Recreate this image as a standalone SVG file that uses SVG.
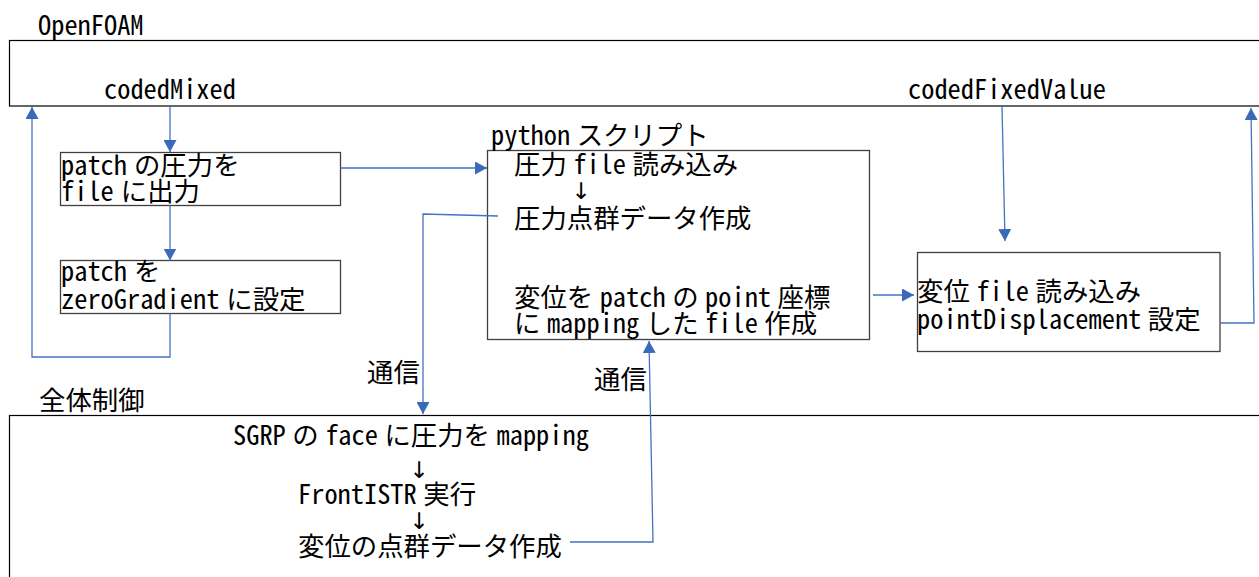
<svg xmlns="http://www.w3.org/2000/svg" width="1259" height="577" viewBox="0 0 1259 577">
<style>
.t{font-family:"Noto Sans Mono CJK JP","Noto Sans CJK JP",monospace;font-size:26.4px;fill:#000}
.ar{font-family:"DejaVu Sans","Liberation Sans",sans-serif;font-size:23px;fill:#000}
.frame{fill:none;stroke:#000;stroke-width:1.2}
.box{fill:#fff;stroke:#404040;stroke-width:1.3}
.c{fill:none;stroke:#4472c4;stroke-width:1.3}
</style>
<defs>
<marker id="ah" markerUnits="userSpaceOnUse" markerWidth="13" markerHeight="13" refX="12" refY="6.5" orient="auto">
<path d="M0,0 L12,6.5 L0,13 z" fill="#3a6bb8"/>
</marker>
</defs>
<rect width="1259" height="577" fill="#fff"/>

<g id="openfoam">
<rect class="frame" x="9.5" y="40.5" width="1252" height="65.5"/>
<text class="t" x="38" y="35">OpenFOAM</text>
<text class="t" x="104" y="99">codedMixed</text>
<text class="t" x="908" y="99">codedFixedValue</text>
</g>

<g id="control">
<rect class="frame" x="9.5" y="415.5" width="1252" height="200"/>
<text class="t" x="39" y="410">全体制御</text>
<text class="t" x="233" y="445"><tspan>SGRP</tspan><tspan dx="6.5">の</tspan><tspan dx="6.5">face</tspan><tspan dx="6.5">に圧力を</tspan><tspan dx="6.5">mapping</tspan></text>
<text class="ar" x="419" y="478" text-anchor="middle">↓</text>
<text class="t" x="298" y="504"><tspan>FrontISTR</tspan><tspan dx="6.5">実行</tspan></text>
<text class="ar" x="419" y="529" text-anchor="middle">↓</text>
<text class="t" x="298" y="556">変位の点群データ作成</text>
</g>

<g id="box1">
<rect class="box" x="60.5" y="152.5" width="280" height="53"/>
<text class="t" x="61" y="175"><tspan>patch</tspan><tspan dx="7">の圧力を</tspan></text>
<text class="t" x="61" y="201"><tspan>file</tspan><tspan dx="7">に出力</tspan></text>
</g>

<g id="box2">
<rect class="box" x="60.5" y="260.5" width="280" height="53"/>
<text class="t" x="61" y="281"><tspan>patch</tspan><tspan dx="7">を</tspan></text>
<text class="t" x="61" y="309"><tspan>zeroGradient</tspan><tspan dx="7">に設定</tspan></text>
</g>

<g id="python">
<rect class="box" x="487.5" y="150.5" width="382" height="189"/>
<text class="t" x="491" y="145"><tspan>python</tspan><tspan dx="6.5">スクリプト</tspan></text>
<text class="t" x="514" y="174"><tspan>圧力</tspan><tspan dx="6.5">file</tspan><tspan dx="6.5">読み込み</tspan></text>
<text class="ar" x="581" y="199" text-anchor="middle">↓</text>
<text class="t" x="514" y="228">圧力点群データ作成</text>
<text class="t" x="514" y="307"><tspan>変位を</tspan><tspan dx="6.5">patch</tspan><tspan dx="6.5">の</tspan><tspan dx="6.5">point</tspan><tspan dx="6.5">座標</tspan></text>
<text class="t" x="514" y="333"><tspan>に</tspan><tspan dx="6.5">mapping</tspan><tspan dx="6.5">した</tspan><tspan dx="6.5">file</tspan><tspan dx="6.5">作成</tspan></text>
</g>

<g id="box3">
<rect class="box" x="917.5" y="252.5" width="302.5" height="99"/>
<text class="t" x="917" y="301"><tspan>変位</tspan><tspan dx="6.5">file</tspan><tspan dx="6.5">読み込み</tspan></text>
<text class="t" x="917" y="329"><tspan>pointDisplacement</tspan><tspan dx="6.5">設定</tspan></text>
</g>

<g id="labels">
<text class="t" x="367" y="382">通信</text>
<text class="t" x="594" y="389">通信</text>
</g>

<g id="connectors">
<path class="c" d="M170,106 L170,152" marker-end="url(#ah)"/>
<path class="c" d="M170,205.5 L170,260.5" marker-end="url(#ah)"/>
<path class="c" d="M170,313.5 L170,357 L32,357 L32,107" marker-end="url(#ah)"/>
<path class="c" d="M340.5,168 L487,168" marker-end="url(#ah)"/>
<path class="c" d="M873,295 L914,295" marker-end="url(#ah)"/>
<path class="c" d="M1002,106 L1005,241" marker-end="url(#ah)"/>
<path class="c" d="M1220,323 L1254,323 L1251,108" marker-end="url(#ah)"/>
<path class="c" d="M498,216 L423,214 L423,414" marker-end="url(#ah)"/>
<path class="c" d="M570,542 L653,542 L649,341" marker-end="url(#ah)"/>
</g>
</svg>
